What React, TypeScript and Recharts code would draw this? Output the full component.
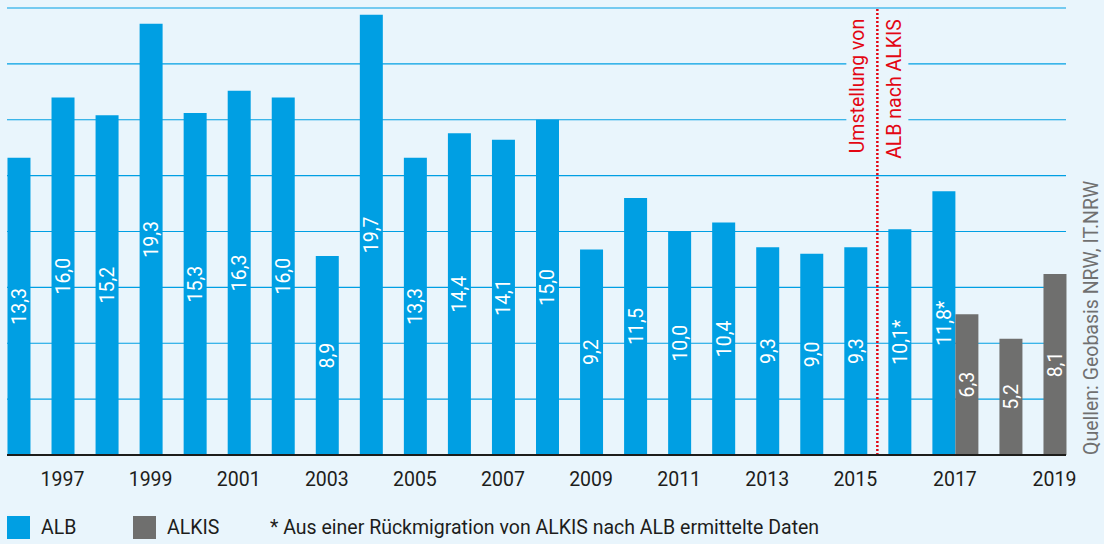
import React from 'react';
import {
  BarChart,
  Bar,
  XAxis,
  YAxis,
  CartesianGrid,
  ReferenceLine,
  LabelList,
} from 'recharts';

const years = [
  1996, 1997, 1998, 1999, 2000, 2001, 2002, 2003, 2004, 2005, 2006, 2007,
  2008, 2009, 2010, 2011, 2012, 2013, 2014, 2015, 2016, 2017, 2018, 2019,
];
const albValues = [
  13.3, 16.0, 15.2, 19.3, 15.3, 16.3, 16.0, 8.9, 19.7, 13.3, 14.4, 14.1,
  15.0, 9.2, 11.5, 10.0, 10.4, 9.3, 9.0, 9.3, 10.1, 11.8, null, null,
];
const alkisValues = [
  null, null, null, null, null, null, null, null, null, null, null, null,
  null, null, null, null, null, null, null, null, null, 6.3, 5.2, 8.1,
];
// ALB values reconstructed from ALKIS data (marked with *)
const starredAlbYears = [2016, 2017];
const yearTicks = [1997, 1999, 2001, 2003, 2005, 2007, 2009, 2011, 2013, 2015, 2017, 2019];
const valueTicks = [0, 2.5, 5, 7.5, 10, 12.5, 15, 17.5, 20];
const switchLineYear = 2015.5;
const firstAlkisYear = 2017;

const BLUE = '#009fe3';
const GREY = '#6f6f6e';
const RED = '#e30613';
const BG = '#e9f5fc';
const TEXT = '#1d1d1b';
const FONT = 'Roboto, sans-serif';
const BAR_SIZE = 23;

const fmt = (v: number | null, star = false) =>
  v == null ? undefined : v.toFixed(1).replace('.', ',') + (star ? '*' : '');

const data = years.map((year, i) => ({
  year,
  alb: albValues[i],
  alkis: alkisValues[i],
  albLabel: fmt(albValues[i], starredAlbYears.includes(year)),
  alkisLabel: fmt(alkisValues[i]),
}));

// ALKIS bars sit one bar width to the right; the shared year is labelled in between
const tickShift = (year: number) =>
  year === firstAlkisYear ? BAR_SIZE / 2 : year > firstAlkisYear ? BAR_SIZE : 0;

const YearTick = (props: any) => {
  const { x, y, payload } = props;
  return (
    <text
      x={x + tickShift(payload.value)}
      y={y + 29}
      textAnchor="middle"
      fill={TEXT}
      fontSize={19.5}
      fontFamily={FONT}
    >
      {payload.value}
    </text>
  );
};

const SwitchLabel = (props: any) => {
  const { x, y } = props.viewBox;
  const mid = y + 78;
  return (
    <g>
      <rect x={x - 31} y={y + 4} width={62} height={152} fill={BG} />
      <text
        x={x - 13}
        y={mid}
        transform={`rotate(-90, ${x - 13}, ${mid})`}
        textAnchor="middle"
        fill={RED}
        fontSize={19.5}
        fontFamily={FONT}
      >
        Umstellung von
      </text>
      <text
        x={x + 24}
        y={mid + 3}
        transform={`rotate(-90, ${x + 24}, ${mid + 3})`}
        textAnchor="middle"
        fill={RED}
        fontSize={19.5}
        fontFamily={FONT}
      >
        ALB nach ALKIS
      </text>
    </g>
  );
};

const labelStyle = { fill: '#ffffff', fontSize: 19.5, fontFamily: FONT };

export default function App() {
  return (
    <div
      style={{
        position: 'absolute',
        left: 0,
        top: 0,
        width: 1104,
        height: 544,
        background: BG,
        fontFamily: FONT,
        overflow: 'hidden',
      }}
    >
      <BarChart
        width={1104}
        height={544}
        data={data}
        margin={{ top: 8, right: 38, left: 7, bottom: 59 }}
      >
        <CartesianGrid
          xAxisId="alb"
          vertical={false}
          stroke={BLUE}
          strokeWidth={1.2}
        />
        <XAxis
          xAxisId="alb"
          dataKey="year"
          type="number"
          domain={[1996, 2019]}
          ticks={yearTicks}
          padding={{ left: BAR_SIZE / 2, right: BAR_SIZE * 1.5 }}
          height={30}
          tickLine={false}
          tickSize={0}
          axisLine={{ stroke: TEXT, strokeWidth: 2 }}
          tick={<YearTick />}
          interval={0}
        />
        <XAxis
          xAxisId="alkis"
          dataKey="year"
          type="number"
          domain={[1996, 2019]}
          padding={{ left: BAR_SIZE * 1.5, right: BAR_SIZE / 2 }}
          hide
        />
        <YAxis domain={[0, 20]} ticks={valueTicks} hide />
        <Bar
          xAxisId="alb"
          dataKey="alb"
          name="ALB"
          fill={BLUE}
          barSize={BAR_SIZE}
          isAnimationActive={false}
        >
          <LabelList dataKey="albLabel" position="center" angle={-90} style={labelStyle} />
        </Bar>
        <Bar
          xAxisId="alkis"
          dataKey="alkis"
          name="ALKIS"
          fill={GREY}
          barSize={BAR_SIZE}
          isAnimationActive={false}
        >
          <LabelList dataKey="alkisLabel" position="center" angle={-90} style={labelStyle} />
        </Bar>
        <ReferenceLine
          xAxisId="alb"
          x={switchLineYear}
          stroke="none"
          label={<SwitchLabel />}
        />
        <ReferenceLine
          xAxisId="alb"
          x={switchLineYear}
          stroke={RED}
          strokeWidth={2.5}
          strokeDasharray="2 2"
        />
      </BarChart>

      <div
        style={{
          position: 'absolute',
          left: 1081,
          top: 455,
          transform: 'rotate(-90deg)',
          transformOrigin: 'left top',
          whiteSpace: 'nowrap',
          fontSize: 19.5,
          lineHeight: '22px',
          color: '#707070',
        }}
      >
        Quellen: Geobasis NRW, IT.NRW
      </div>

      <div
        style={{
          position: 'absolute',
          left: 7,
          top: 516,
          height: 23,
          display: 'flex',
          alignItems: 'center',
          fontSize: 19.5,
          color: TEXT,
          whiteSpace: 'nowrap',
        }}
      >
        <span style={{ width: 23, height: 23, background: BLUE, display: 'inline-block', flexShrink: 0 }} />
        <span style={{ marginLeft: 11, width: 92 }}>ALB</span>
        <span style={{ width: 23, height: 23, background: GREY, display: 'inline-block', flexShrink: 0 }} />
        <span style={{ marginLeft: 11, width: 103 }}>ALKIS</span>
        <span>* Aus einer Rückmigration von ALKIS nach ALB ermittelte Daten</span>
      </div>
    </div>
  );
}
